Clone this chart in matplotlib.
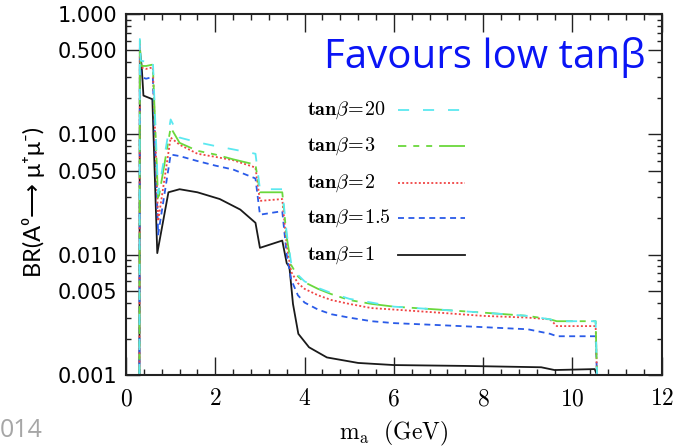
import matplotlib
matplotlib.use('Agg')
import matplotlib.pyplot as plt
from matplotlib.ticker import FixedLocator, MultipleLocator, FuncFormatter, NullFormatter

plt.rcParams['mathtext.fontset'] = 'cm'
plt.rcParams['lines.scale_dashes'] = False

# Data (m_a in GeV, branching ratio)
mass = [0.30, 0.31, 0.33, 0.45, 0.60, 0.72, 1.00, 1.20, 1.60, 2.00, 2.40, 2.90, 3.00, 3.50,
        3.60, 3.70, 3.85, 4.00, 4.30, 4.60, 5.00, 5.50, 6.00, 7.00, 8.00, 9.00, 9.50, 9.65,
        10.52, 10.55]
br_tb20 = [0.001, 0.62, 0.41, 0.40, 0.42, 0.032, 0.133, 0.094, 0.086, 0.080, 0.075, 0.069, 0.035, 0.035,
           0.015, 0.0085, 0.0068, 0.0060, 0.0053, 0.0048, 0.0043, 0.0040, 0.0037, 0.0035, 0.0033, 0.0031,
           0.0029, 0.0028, 0.0028, 0.001]
br_tb3 = [0.001, 0.60, 0.37, 0.37, 0.38, 0.028, 0.114, 0.085, 0.073, 0.068, 0.062, 0.056, 0.033, 0.033,
          0.014, 0.0082, 0.0066, 0.0059, 0.0052, 0.0047, 0.0042, 0.0039, 0.0037, 0.0035, 0.0033, 0.0031,
          0.0029, 0.0028, 0.0028, 0.001]
br_tb2 = [0.001, 0.58, 0.36, 0.35, 0.36, 0.019, 0.094, 0.082, 0.069, 0.065, 0.061, 0.053, 0.028, 0.029,
          0.012, 0.0072, 0.0058, 0.0052, 0.0046, 0.0042, 0.0039, 0.0036, 0.0035, 0.0033, 0.0031, 0.0030,
          0.0029, 0.00255, 0.00255, 0.001]
br_tb15 = [0.001, 0.55, 0.30, 0.29, 0.30, 0.0147, 0.068, 0.066, 0.060, 0.055, 0.051, 0.043, 0.0215, 0.023,
           0.010, 0.0062, 0.0046, 0.0040, 0.0035, 0.0032, 0.0030, 0.0028, 0.0027, 0.0026, 0.0025, 0.0024,
           0.0022, 0.0021, 0.0021, 0.001]

mass_tb1 = [0.30, 0.31, 0.35, 0.39, 0.59, 0.70, 0.95, 1.20, 1.60, 2.10, 2.56, 2.90, 3.00, 3.50,
            3.60, 3.66, 3.74, 3.86, 4.10, 4.50, 5.20, 6.00, 7.60, 9.30, 9.60, 10.50, 10.55]
br_tb1 = [0.001, 0.50, 0.37, 0.21, 0.196, 0.0103, 0.033, 0.035, 0.033, 0.029, 0.0237, 0.0184, 0.0114, 0.0131,
          0.0085, 0.0079, 0.0039, 0.0022, 0.0017, 0.0014, 0.00126, 0.00121, 0.00119, 0.00116, 0.0011,
          0.00112, 0.001]

tanb = ['20', '3', '2', '1.5', '1']
y_ticks = [0.001, 0.005, 0.01, 0.05, 0.1, 0.5, 1.0]

# styles (top to bottom in the legend)
colors = ['#5ce8f0', '#6ad83c', '#f04444', '#2a5be8', '#1a1a1a']
styles = [(0, (8, 10)), (14, (20, 5, 4.3, 5, 4.3, 5)), (0, (1.4, 1.6)), (0, (4.3, 3.2)), '-']
curves = [(mass, br_tb20), (mass, br_tb3), (mass, br_tb2), (mass, br_tb15), (mass_tb1, br_tb1)]

fig = plt.figure(figsize=(6.75, 4.48), dpi=100)
ax = fig.add_axes([0.1867, 0.1629, 0.7936, 0.8058])

# draw black first so the coloured ones sit on top
for i in reversed(range(len(curves))):
    x, y = curves[i]
    ax.plot(x, y, color=colors[i], linestyle=styles[i], lw=1.3)

ax.set_yscale('log')
ax.set_xlim(0, 12)
ax.set_ylim(0.001, 1.0)

ax.xaxis.set_major_locator(MultipleLocator(2))
ax.xaxis.set_minor_locator(MultipleLocator(0.4))
ax.xaxis.set_major_formatter(FuncFormatter(lambda v, p: r'$%d$' % round(v)))
ax.yaxis.set_major_locator(FixedLocator(y_ticks))
ax.yaxis.set_minor_locator(FixedLocator([k * 10.0 ** e for e in (-3, -2, -1) for k in (2, 3, 4, 6, 7, 8, 9)]))
ax.yaxis.set_major_formatter(FuncFormatter(lambda v, p: '%.3f' % v))
ax.yaxis.set_minor_formatter(NullFormatter())

ax.tick_params(which='both', direction='in', top=True, right=True, width=1.0, color='#222222')
ax.tick_params(axis='x', which='major', length=13, pad=8, labelsize=17)
ax.tick_params(axis='x', which='minor', length=4.5)
ax.tick_params(axis='y', which='major', length=10, pad=6, labelsize=15)
ax.tick_params(axis='y', which='minor', length=3.8)
for s in ax.spines.values():
    s.set_linewidth(1.5)
    s.set_color('#222222')

ax.set_xlabel(r'$\mathrm{m_a\ \ (GeV)}$', fontsize=17, labelpad=6)
ax.set_ylabel('BR(A⁰⟶ μ⁺μ⁻)', fontsize=17, family=['Lato', 'DejaVu Sans'], va='center')
ax.yaxis.set_label_coords(-0.172, 0.479)

# hand-made legend: label on the left, line sample on the right
leg_y = [0.734, 0.634, 0.532, 0.435, 0.332]
for i in range(len(tanb)):
    lab = r'$\mathbf{tan}\beta\!\mathbf{=}\!\mathbf{%s}$' % tanb[i]
    ax.text(0.338, leg_y[i], lab, transform=ax.transAxes, va='center', ha='left', fontsize=14.5)
    ax.plot([0.508, 0.633], [leg_y[i], leg_y[i]], transform=ax.transAxes,
            color=colors[i], linestyle=styles[i], lw=1.3)

ax.text(0.670, 0.850, 'Favours low tanβ', transform=ax.transAxes, ha='center', va='baseline',
        color='#0a14f5', fontsize=29, family=['Open Sans', 'DejaVu Sans'])
fig.text(0.0, 0.025, '014', color='#a6a6a6', fontsize=18, family=['Open Sans', 'DejaVu Sans'],
         ha='left', va='baseline')

fig.savefig('out.png', dpi=100)
